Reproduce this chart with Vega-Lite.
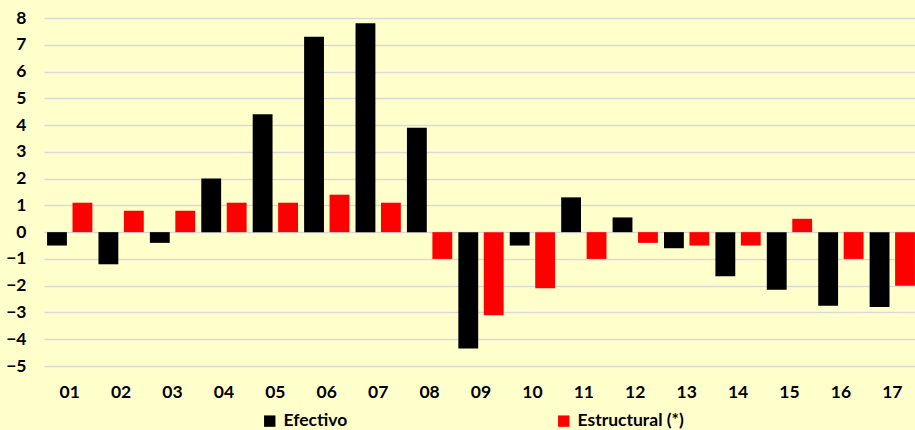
{
  "$schema": "https://vega.github.io/schema/vega-lite/v6.json",
  "autosize": {"type": "none"},
  "width": 871,
  "height": 348,
  "padding": {"left": 44, "top": 18, "right": 0, "bottom": 64},
  "background": "#FFFFCC",
  "config": {
    "view": {"stroke": null},
    "font": "Lato",
    "axis": {"labelFont": "Lato", "labelFontWeight": "bold", "labelColor": "#000000", "labelFontSize": 17.5},
    "legend": {"labelFont": "Lato", "labelFontWeight": "bold", "labelColor": "#000000"}
  },
  "data": {
    "values": [
      {"cat": "01", "serie": "Efectivo", "v": -0.5}, {"cat": "01", "serie": "Estructural (*)", "v": 1.1},
      {"cat": "02", "serie": "Efectivo", "v": -1.2}, {"cat": "02", "serie": "Estructural (*)", "v": 0.8},
      {"cat": "03", "serie": "Efectivo", "v": -0.4}, {"cat": "03", "serie": "Estructural (*)", "v": 0.8},
      {"cat": "04", "serie": "Efectivo", "v": 2.0}, {"cat": "04", "serie": "Estructural (*)", "v": 1.1},
      {"cat": "05", "serie": "Efectivo", "v": 4.4}, {"cat": "05", "serie": "Estructural (*)", "v": 1.1},
      {"cat": "06", "serie": "Efectivo", "v": 7.3}, {"cat": "06", "serie": "Estructural (*)", "v": 1.4},
      {"cat": "07", "serie": "Efectivo", "v": 7.8}, {"cat": "07", "serie": "Estructural (*)", "v": 1.1},
      {"cat": "08", "serie": "Efectivo", "v": 3.9}, {"cat": "08", "serie": "Estructural (*)", "v": -1.0},
      {"cat": "09", "serie": "Efectivo", "v": -4.35}, {"cat": "09", "serie": "Estructural (*)", "v": -3.1},
      {"cat": "10", "serie": "Efectivo", "v": -0.5}, {"cat": "10", "serie": "Estructural (*)", "v": -2.1},
      {"cat": "11", "serie": "Efectivo", "v": 1.3}, {"cat": "11", "serie": "Estructural (*)", "v": -1.0},
      {"cat": "12", "serie": "Efectivo", "v": 0.55}, {"cat": "12", "serie": "Estructural (*)", "v": -0.4},
      {"cat": "13", "serie": "Efectivo", "v": -0.6}, {"cat": "13", "serie": "Estructural (*)", "v": -0.5},
      {"cat": "14", "serie": "Efectivo", "v": -1.65}, {"cat": "14", "serie": "Estructural (*)", "v": -0.5},
      {"cat": "15", "serie": "Efectivo", "v": -2.15}, {"cat": "15", "serie": "Estructural (*)", "v": 0.5},
      {"cat": "16", "serie": "Efectivo", "v": -2.75}, {"cat": "16", "serie": "Estructural (*)", "v": -1.0},
      {"cat": "17", "serie": "Efectivo", "v": -2.8}, {"cat": "17", "serie": "Estructural (*)", "v": -2.0}
    ]
  },
  "mark": {"type": "bar"},
  "encoding": {
    "x": {
      "field": "cat", "type": "nominal", "title": null,
      "scale": {"paddingInner": 0, "paddingOuter": 0, "range": [0, 874]},
      "axis": {"labelAngle": 0, "ticks": false, "domain": false, "labelPadding": 17, "grid": false}
    },
    "xOffset": {
      "field": "serie", "type": "nominal", "sort": ["Efectivo", "Estructural (*)"],
      "scale": {"paddingInner": 0.22, "paddingOuter": 0.12}
    },
    "y": {
      "field": "v", "type": "quantitative", "title": null,
      "scale": {"domain": [-5, 8], "nice": false, "zero": false},
      "axis": {"values": [-5, -4, -3, -2, -1, 0, 1, 2, 3, 4, 5, 6, 7, 8], "ticks": false, "domain": false, "labelPadding": 18, "gridColor": "#D9D9D9", "gridWidth": 1.5}
    },
    "color": {
      "field": "serie", "type": "nominal", "sort": ["Efectivo", "Estructural (*)"],
      "scale": {"domain": ["Efectivo", "Estructural (*)"], "range": ["#000000", "#FF0000"]},
      "legend": {
        "title": null, "orient": "none", "direction": "horizontal",
        "legendX": 217, "legendY": 394, "padding": 0,
        "symbolType": "square", "symbolSize": 130, "symbolStrokeWidth": 0,
        "labelFontSize": 17.5, "labelOffset": 5, "columnPadding": 207
      }
    }
  }
}
